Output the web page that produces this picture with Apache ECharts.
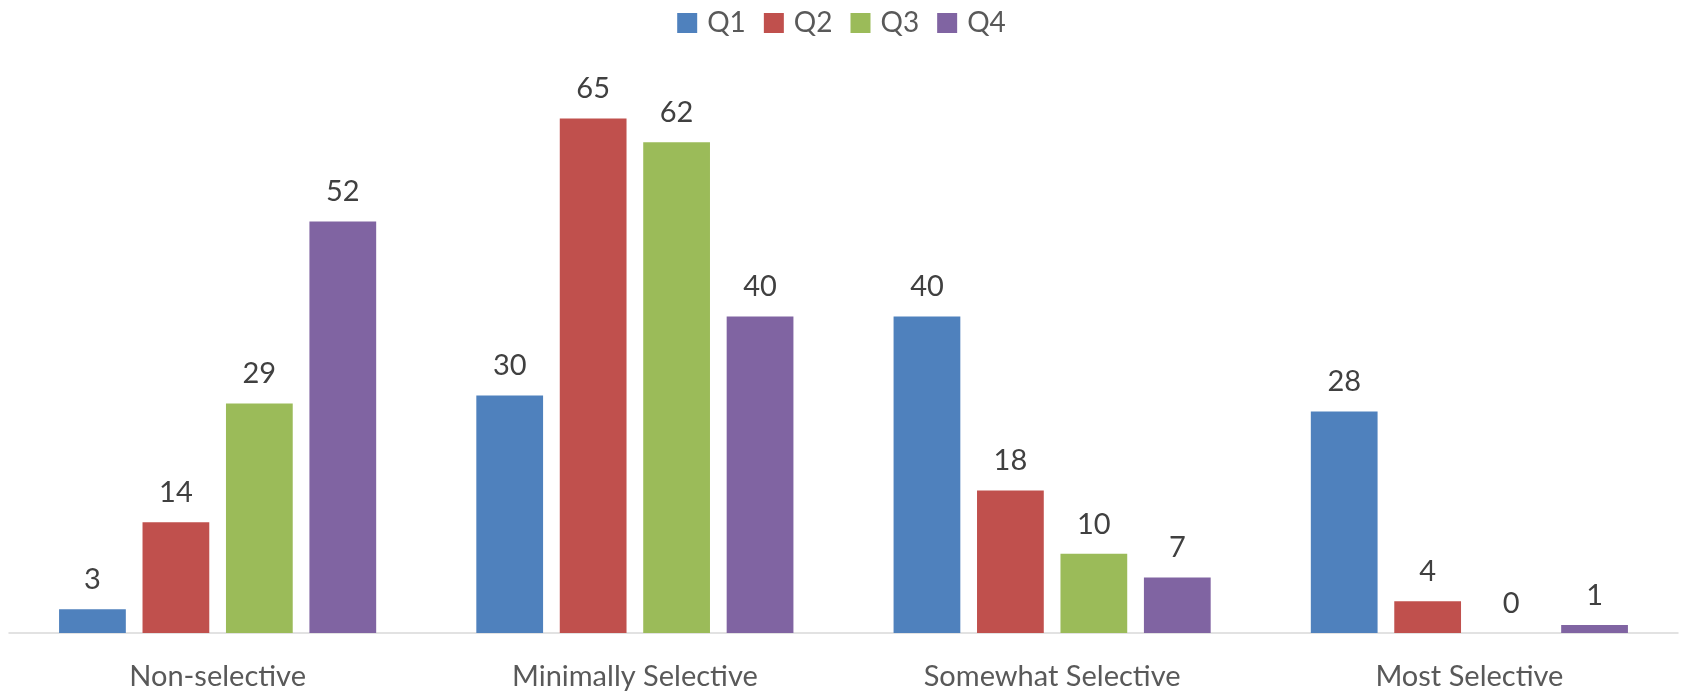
<!DOCTYPE html>
<html>
<head>
<meta charset="utf-8">
<script src="https://cdn.jsdelivr.net/npm/echarts@6/dist/echarts.min.js"></script>
<style>
html,body{margin:0;padding:0;background:#fff;}
#chart{width:1683px;height:691px;}
</style>
</head>
<body>
<div id="chart"></div>
<script>
const categories = ["Non-selective", "Minimally Selective", "Somewhat Selective", "Most Selective"];
const seriesNames = ["Q1", "Q2", "Q3", "Q4"];
const q1 = [3, 30, 40, 28];
const q2 = [14, 65, 18, 4];
const q3 = [29, 62, 10, 0];
const q4 = [52, 40, 7, 1];
const colors = ["#4F81BD", "#C0504D", "#9BBB59", "#8064A2"];

const font = "Lato, 'Open Sans', sans-serif";
const chart = echarts.init(document.getElementById('chart'));
const values = [q1, q2, q3, q4];
chart.setOption({
  animation: false,
  color: colors,
  legend: {
    top: 4,
    left: 'center',
    itemWidth: 20,
    itemHeight: 20,
    itemGap: 18,
    icon: 'rect',
    textStyle: {fontFamily: font, fontSize: 28, color: '#595959', padding: [0, 0, 0, 5]},
    data: seriesNames
  },
  grid: {left: 9, right: 5, top: 79, bottom: 58, containLabel: false},
  xAxis: {
    type: 'category',
    data: categories,
    axisLine: {lineStyle: {color: '#d9d9d9', width: 1.5}},
    axisTick: {show: false},
    axisLabel: {fontFamily: font, fontSize: 29, color: '#595959', margin: 29}
  },
  yAxis: {
    type: 'value', min: 0, max: 70, interval: 10,
    show: false,
    splitLine: {show: false}
  },
  series: seriesNames.map((n, i) => ({
    name: n,
    type: 'bar',
    data: values[i],
    barWidth: '16%',
    barGap: '25%',
    itemStyle: {color: colors[i]},
    label: {show: true, position: 'top', distance: 15, fontFamily: font, fontSize: 29, color: '#404040'}
  }))
});
</script>
</body>
</html>
